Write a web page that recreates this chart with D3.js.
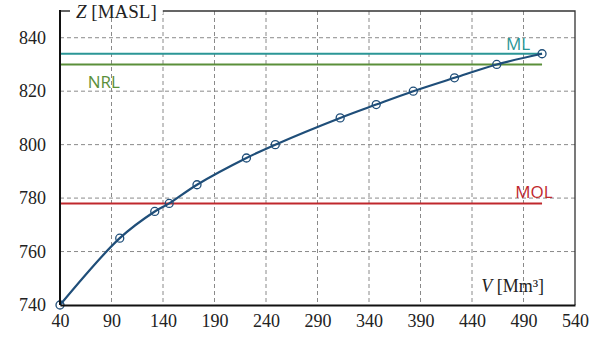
<!DOCTYPE html>
<html>
<head>
<meta charset="utf-8">
<script src="https://cdn.jsdelivr.net/npm/d3@7"></script>
<style>
body{margin:0;background:#fff;}
svg{display:block;}
</style>
</head>
<body>
<svg id="chart"></svg>
<script>
// storage curve
var volume = [40, 98, 132, 146, 173, 221, 249, 312, 347, 383, 423, 464, 508];
var level  = [740, 765, 775, 778, 785, 795, 800, 810, 815, 820, 825, 830, 834];

var xTicks = [40, 90, 140, 190, 240, 290, 340, 390, 440, 490, 540];
var yTicks = [740, 760, 780, 800, 820, 840];

var refNames  = ["ML", "NRL", "MOL"];
var refLevels = [834, 830, 778];
var refColors = ["#2b9696", "#5b8f3a", "#c0282d"];

var serif = "'Liberation Serif', 'Times New Roman', serif"
var sans = "'Open Sans', 'Noto Sans', sans-serif"

var screen = {width:599, height:338}
var margins = {top:11, bottom:33, left:60, right:24}
var graph = {
    width:screen.width-margins.left-margins.right,
    height:screen.height-margins.top-margins.bottom
}

var svg = d3.select("#chart")
    .attr("width", screen.width)
    .attr("height", screen.height)

var xScale = d3.scaleLinear().domain([40, 540]).range([0, graph.width])
var yScale = d3.scaleLinear().domain([740, 850]).range([graph.height, 0])

var g = svg.append("g")
    .attr("transform", "translate("+margins.left+","+margins.top+")")

// grid
g.append("g").selectAll("line").data(xTicks.slice(1, -1)).enter().append("line")
    .attr("x1", d => xScale(d)).attr("x2", d => xScale(d))
    .attr("y1", 0).attr("y2", graph.height)
    .attr("stroke", "#8a8a8a").attr("stroke-width", 1).attr("stroke-dasharray", "4,3")
g.append("g").selectAll("line").data(yTicks.slice(1)).enter().append("line")
    .attr("y1", d => yScale(d)).attr("y2", d => yScale(d))
    .attr("x1", 0).attr("x2", graph.width)
    .attr("stroke", "#8a8a8a").attr("stroke-width", 1).attr("stroke-dasharray", "4,3")

// border top / right
g.append("path")
    .attr("d", "M0,0H"+graph.width+"V"+graph.height)
    .attr("fill", "none").attr("stroke", "#333").attr("stroke-width", 1.3)

// reference levels
refLevels.forEach(function(v, i){
    g.append("line")
        .attr("x1", 0).attr("x2", xScale(508))
        .attr("y1", yScale(v)).attr("y2", yScale(v))
        .attr("stroke", refColors[i]).attr("stroke-width", 2)
})
var lblPos = [[473, 834, -4], [67, 830, 24], [482, 778, -5]]
lblPos.forEach(function(p, i){
    g.append("text")
        .attr("font-family", sans).attr("font-size", 17)
        .attr("fill", refColors[i])
        .attr("x", xScale(p[0])).attr("y", yScale(p[1])+p[2])
        .text(refNames[i])
})

// curve
var pts = volume.map((v, i) => [v, level[i]])
var line = d3.line()
    .x(d => xScale(d[0])).y(d => yScale(d[1]))
    .curve(d3.curveCatmullRom.alpha(0.5))
g.append("path").datum(pts).attr("d", line)
    .attr("fill", "none").attr("stroke", "#1f4e79").attr("stroke-width", 2.2)
g.append("g").selectAll("circle").data(pts).enter().append("circle")
    .attr("cx", d => xScale(d[0])).attr("cy", d => yScale(d[1]))
    .attr("r", 4).attr("fill", "none").attr("stroke", "#1f4e79").attr("stroke-width", 1.3)

// axes
var xAxis = d3.axisBottom(xScale).tickValues(xTicks).tickSize(0).tickPadding(9)
var yAxis = d3.axisLeft(yScale).tickValues(yTicks).tickSize(0).tickPadding(14)
var xa = g.append("g").attr("transform", "translate(0,"+graph.height+")").call(xAxis)
var ya = g.append("g").call(yAxis)
;[xa, ya].forEach(function(a){
    a.attr("font-family", serif).attr("font-size", 18)
    a.selectAll(".tick text").attr("fill", "#222")
    a.select(".domain").attr("stroke", "#111").attr("stroke-width", 2)
})
ya.select(".domain").attr("d", "M0,-1V"+graph.height)

// axis titles
var zt = g.append("text")
    .attr("x", 16).attr("y", 7)
    .attr("font-family", serif).attr("font-size", 19).attr("fill", "#222")
zt.append("tspan").attr("font-style", "italic").text("Z")
zt.append("tspan").text(" [MASL]")
var bb = zt.node().getBBox()
g.insert("rect", "text")
    .attr("x", bb.x-6).attr("y", -3).attr("width", bb.width+12).attr("height", 6)
    .attr("fill", "#fff")
zt.raise()

var vt = g.append("text")
    .attr("x", xScale(510)).attr("y", graph.height-13)
    .attr("text-anchor", "end")
    .attr("font-family", serif).attr("font-size", 18).attr("fill", "#222")
vt.append("tspan").attr("font-style", "italic").text("V")
vt.append("tspan").text(" [Mm³]")
</script>
</body>
</html>
